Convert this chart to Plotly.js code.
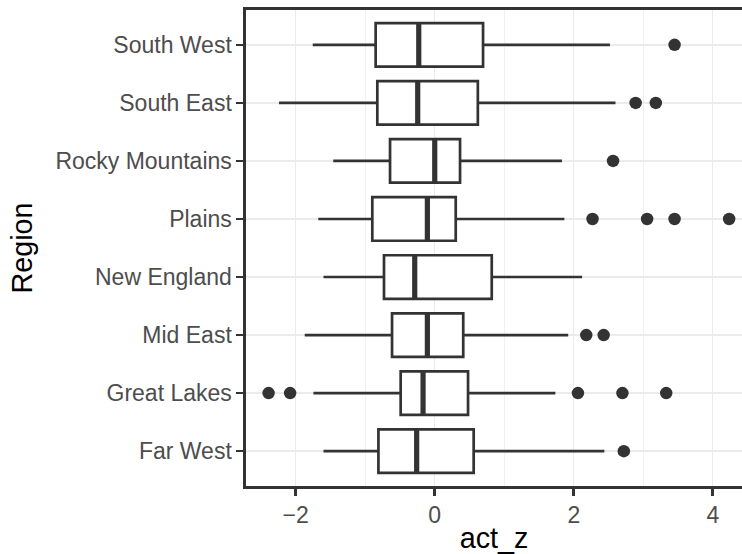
<!DOCTYPE html>
<html>
<head>
<meta charset="utf-8">
<script src="https://cdn.plot.ly/plotly-3.0.1.min.js"></script>
<style>html,body{margin:0;padding:0;background:#fff;}#chart{width:742px;height:554px;}</style>
</head>
<body>
<div id="chart"></div>
<script>
// Categories (bottom to top)
const regions = ["Far West", "Great Lakes", "Mid East", "New England", "Plains", "Rocky Mountains", "South East", "South West"];
// Box statistics
const lowerWhisker = [-1.60, -1.745, -1.87, -1.60, -1.675, -1.46, -2.24, -1.755];
const q1Values     = [-0.81, -0.49, -0.614, -0.73, -0.898, -0.643, -0.826, -0.85];
const medianValues = [-0.26, -0.168, -0.106, -0.288, -0.106, 0.0, -0.245, -0.23];
const q3Values     = [0.56, 0.479, 0.41, 0.82, 0.302, 0.364, 0.62, 0.695];
const upperWhisker = [2.44, 1.735, 1.92, 2.12, 1.865, 1.83, 2.60, 2.52];
// Outliers
const outlierRegion = ["Far West", "Great Lakes", "Great Lakes", "Great Lakes", "Great Lakes", "Great Lakes",
                       "Mid East", "Mid East", "Plains", "Plains", "Plains", "Plains",
                       "Rocky Mountains", "South East", "South East", "South West"];
const outlierValue  = [2.72, -2.39, -2.08, 2.06, 2.70, 3.33,
                       2.18, 2.43, 2.27, 3.055, 3.45, 4.235,
                       2.565, 2.89, 3.18, 3.45];
const xTickVals = [-2, 0, 2, 4];
const xTickText = ["\u22122", "0", "2", "4"];

const pos = regions.map((r, i) => i);
const boxW = 0.75;
const dark = "#333333";

const boxTrace = {
  type: "box",
  orientation: "h",
  y: pos,
  q1: q1Values,
  median: medianValues,
  q3: q3Values,
  lowerfence: lowerWhisker,
  upperfence: upperWhisker,
  width: boxW,
  whiskerwidth: 0,
  boxpoints: false,
  fillcolor: "#ffffff",
  line: {color: dark, width: 2.7},
  hoverinfo: "skip",
  showlegend: false
};

const medX = [], medY = [];
medianValues.forEach((m, i) => {
  medX.push(m, m, null);
  medY.push(i - boxW / 2, i + boxW / 2, null);
});
const medianTrace = {
  type: "scatter", mode: "lines",
  x: medX, y: medY,
  line: {color: dark, width: 5.2},
  hoverinfo: "skip", showlegend: false
};

const outTrace = {
  type: "scatter", mode: "markers",
  x: outlierValue,
  y: outlierRegion.map(r => regions.indexOf(r)),
  marker: {color: dark, size: 12.5, line: {width: 0}},
  hoverinfo: "skip", showlegend: false
};

const layout = {
  width: 742, height: 554,
  margin: {l: 246, r: 0, t: 10, b: 68},
  paper_bgcolor: "#ffffff",
  plot_bgcolor: "#ffffff",
  font: {family: "Liberation Sans, Arial, sans-serif", color: "#4d4d4d"},
  xaxis: {
    range: [-2.715, 4.42],
    tickvals: xTickVals,
    ticktext: xTickText,
    showgrid: true, gridcolor: "#ebebeb", gridwidth: 1.4,
    minor: {tickvals: [-1, 1, 3], showgrid: true, gridcolor: "#ebebeb", gridwidth: 0.7, ticks: ""},
    zeroline: false,
    showline: true, mirror: true, linecolor: dark, linewidth: 2.6,
    ticks: "outside", ticklen: 7, tickwidth: 2.6, tickcolor: dark,
    tickfont: {size: 23, color: "#4d4d4d"},
    title: {text: "act_z", font: {size: 28.75, color: "#000000"}, standoff: 8}
  },
  yaxis: {
    range: [-0.6, 7.6],
    tickvals: pos,
    ticktext: regions,
    showgrid: true, gridcolor: "#ebebeb", gridwidth: 1.4,
    zeroline: false,
    showline: true, mirror: true, linecolor: dark, linewidth: 2.6,
    ticks: "outside", ticklen: 7, tickwidth: 2.6, tickcolor: dark,
    tickfont: {size: 23, color: "#4d4d4d"},
    title: {text: "Region", font: {size: 28.75, color: "#000000"}, standoff: 15}
  }
};

Plotly.newPlot("chart", [boxTrace, medianTrace, outTrace], layout, {displayModeBar: false, staticPlot: true});
</script>
</body>
</html>
